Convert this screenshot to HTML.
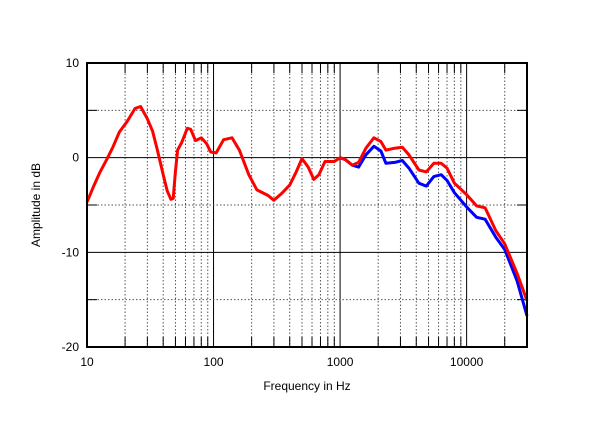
<!DOCTYPE html>
<html><head><meta charset="utf-8"><style>
body{margin:0;background:#fff;}
svg text{font-family:"Liberation Sans",sans-serif;font-size:12px;fill:#000;}
</style></head><body>
<svg id="chart" width="600" height="423" xmlns="http://www.w3.org/2000/svg">
<g id="grid"></g>
<g id="series"></g>
<rect x="87" y="63" width="440" height="284" fill="none" stroke="#000" stroke-width="2"/>
<g id="labels"></g>
<text x="307" y="390" text-anchor="middle">Frequency in Hz</text>
<text transform="translate(40,205) rotate(-90)" text-anchor="middle">Amplitude in dB</text>
</svg>
<script>
const xTicks=[10,100,1000,10000];
const xTickLabels=["10","100","1000","10000"];
const yTicks=[10,5,0,-5,-10,-15,-20];
const yTickLabels=["10","","0","","-10","","-20"];
const redFreq=[10,11.3,12.7,14.3,16,18,20.7,24,26.5,30,33,36,40,43,46,48,50,52,56,62,66,72,80,88,95,105,120,140,160,190,220,270,300,350,400,450,500,560,620,680,760,900,1000,1100,1250,1400,1600,1850,2100,2300,2700,3100,3500,4200,4800,5500,6300,7000,8000,10000,12000,14000,17000,20000,25000,30000];
const redDb=[-4.7,-3,-1.5,-0.2,1.1,2.7,3.8,5.2,5.4,4.1,2.8,0.8,-1.8,-3.5,-4.4,-4.3,-1.5,0.8,1.6,3.1,3,1.8,2.1,1.5,0.6,0.5,1.9,2.1,0.8,-1.8,-3.4,-4,-4.5,-3.7,-2.9,-1.5,-0.1,-1,-2.3,-1.8,-0.4,-0.4,0,-0.2,-0.8,-0.5,1,2.1,1.7,0.8,1,1.1,0.3,-1.3,-1.5,-0.6,-0.6,-1.1,-2.7,-3.9,-5.1,-5.3,-7.7,-9.1,-12.2,-15.1];
const blueFreq=[1000,1100,1250,1400,1600,1850,2100,2300,2700,3100,3500,4200,4800,5500,6300,7000,8000,10000,12000,14000,17000,20000,25000,30000];
const blueDb=[0,-0.2,-0.8,-1,0.3,1.2,0.7,-0.6,-0.5,-0.3,-1.1,-2.7,-3,-2,-1.8,-2.4,-3.7,-5.2,-6.3,-6.5,-8.4,-9.7,-13,-16.7];
const X0=87,X1=527,Y0=63,Y1=347;
const xs=f=>X0+(X1-X0)*Math.log10(f/10)/Math.log10(3000);
const ys=d=>Y0+(10-d)*(Y1-Y0)/30;
const NS="http://www.w3.org/2000/svg";
function mk(t,p,parent){const e=document.createElementNS(NS,t);for(const k in p)e.setAttribute(k,p[k]);parent.appendChild(e);return e;}
const grid=document.getElementById('grid'),lab=document.getElementById('labels'),ser=document.getElementById('series');
for(let dec=10;dec<30000;dec*=10){for(let m=1;m<10;m++){const f=dec*m;if(f>30000)break;const x=xs(f);
 const l=mk('line',{x1:x,x2:x,y1:Y0,y2:Y1,stroke:m===1?'#000':'#555','stroke-width':1,'stroke-dasharray':m===1?'none':'1.5,2'},grid);
 
 
 if(m>1){for(const [a,b] of [[Y0,Y0+10],[Y1-10,Y1]]){const t=mk('line',{x1:x,x2:x,y1:a,y2:b,stroke:'#000','stroke-width':1},grid);
 
 }}
}}
yTicks.forEach((d,i)=>{const y=ys(d);const solid=(d%10===0);
 const l=mk('line',{x1:X0,x2:X1,y1:y,y2:y,stroke:solid?'#000':'#555','stroke-width':1,'stroke-dasharray':solid?'none':'1.5,2'},grid);
 
 
 if(!solid){for(const [a,b] of [[X0,X0+10],[X1-10,X1]]){const t=mk('line',{x1:a,x2:b,y1:y,y2:y,stroke:'#000','stroke-width':1},grid);
 
 }}
 if(yTickLabels[i]){const t=mk('text',{x:X0-8,y:y+4,'text-anchor':'end'},lab);t.textContent=yTickLabels[i];
 
 }
});
xTicks.forEach((f,i)=>{const t=mk('text',{x:xs(f),y:Y1+19,'text-anchor':'middle'},lab);t.textContent=xTickLabels[i];
 
 });
function line(fr,db,col,name){const p=mk('polyline',{points:fr.map((f,i)=>xs(f).toFixed(1)+','+ys(db[i]).toFixed(1)).join(' '),fill:'none',stroke:col,'stroke-width':3,'stroke-linejoin':'round'},ser);
 
 }
line(blueFreq,blueDb,'#0000ff','blue-response-line');
line(redFreq,redDb,'#ff0000','red-response-line');
</script>
</body></html>
